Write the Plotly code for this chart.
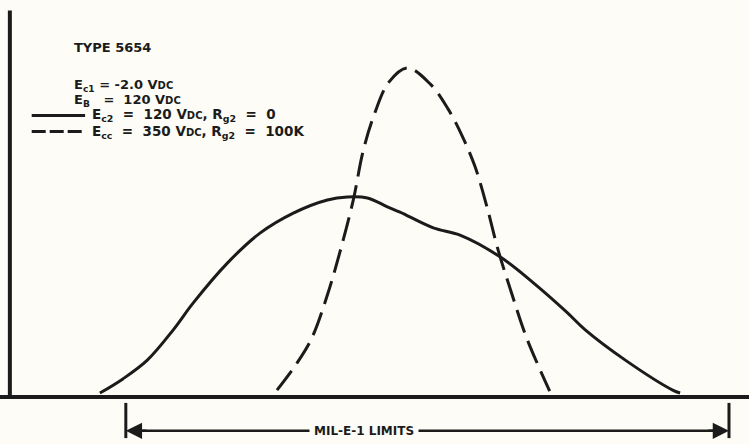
import plotly.graph_objects as go

# ---- data (x: arbitrary units along the axis, y: % of dashed-curve peak) ----
solid_x = [12.4, 15.5, 18.8, 22.3, 25.0, 29.6, 34.0, 38.5, 43.1, 45.8, 48.5, 51.2, 52.9,
           57.4, 61.0, 66.4, 70.9, 75.4, 77.9, 83.5, 89.7, 90.7]
solid_y = [1.2, 5.5, 11.2, 20.4, 28.6, 40.7, 49.8, 55.9, 59.9, 60.8, 60.5, 57.8, 56.2,
           51.4, 49.2, 42.6, 34.7, 25.8, 20.4, 10.9, 2.1, 1.2]

dashed_x = [36.3, 39.0, 41.0, 43.1, 44.8, 46.6, 47.9, 49.4, 51.4, 53.9, 57.0, 59.4,
            61.3, 63.0, 64.6, 66.1, 68.0, 70.0, 73.1]
dashed_y = [2.1, 10.3, 17.9, 31.0, 44.1, 59.9, 74.5, 85.7, 95.7, 100.0, 95.1, 87.5,
            79.3, 70.2, 58.1, 45.0, 31.3, 17.9, 1.8]

limits = [15.9, 97.3]          # MIL-E-1 limits
limit_label = "MIL-E-1 LIMITS"

NB = "\u00a0"
SM = "<span style='font-size:10px'>DC</span>"
EQ = NB + "=" + NB
solid_name = "E<sub>c2</sub>" + NB + EQ + NB + "120 V" + SM + ", R<sub>g2</sub>" + NB + EQ + NB + "0"
dashed_name = "E<sub>cc</sub>" + NB + EQ + NB + "350 V" + SM + ", R<sub>g2</sub>" + NB + EQ + NB + "100K"
title_lines = ["TYPE 5654",
               "E<sub>c1</sub> = -2.0 V" + SM,
               "E<sub>B</sub>" + NB + NB + NB + "=" + NB + NB + "120 V" + SM]

INK = "#1b1b1b"
BG = "#fdfcf6"
FONT = dict(family="DejaVu Sans", size=13, color=INK, weight="bold")
LFONT = dict(family="DejaVu Sans", size=13.5, color=INK, weight="bold")

# figure geometry: x range maps 0 -> y-axis, y range 0 -> x-axis
XR = [-1.08, 100.0]
YR = [-14.29, 120.67]

fig = go.Figure()
fig.add_trace(go.Scatter(x=solid_x, y=solid_y, mode="lines", name="solid",
                         line=dict(color=INK, width=3, shape="spline", smoothing=1.0),
                         showlegend=False, hoverinfo="skip"))
fig.add_trace(go.Scatter(x=dashed_x, y=dashed_y, mode="lines", name="dashed",
                         line=dict(color=INK, width=3, shape="spline", smoothing=1.0,
                                   dash="24px,9px"),
                         showlegend=False, hoverinfo="skip"))

shapes = []
# axes
shapes.append(dict(type="line", xref="x", yref="y", x0=XR[0], x1=XR[1], y0=0, y1=0,
                   line=dict(color=INK, width=4)))
shapes.append(dict(type="line", xref="x", yref="y", x0=0.25, x1=0.25, y0=0, y1=117.5,
                   line=dict(color=INK, width=4)))
# limit ticks and arrow line
y_arrow = -10.3
for lx in limits:
    shapes.append(dict(type="line", xref="x", yref="y", x0=lx, x1=lx, y0=-1.8, y1=-12.5,
                       line=dict(color=INK, width=3)))
shapes.append(dict(type="line", xref="x", yref="y", x0=limits[0] + 1.5, x1=limits[1] - 1.5,
                   y0=y_arrow, y1=y_arrow, line=dict(color=INK, width=2.5)))
# legend sample lines
leg_y = [85.6, 80.7]
shapes.append(dict(type="line", xref="x", yref="y", x0=3.2, x1=10.4, y0=leg_y[0], y1=leg_y[0],
                   line=dict(color=INK, width=3)))
shapes.append(dict(type="line", xref="x", yref="y", x0=3.2, x1=10.4, y0=leg_y[1], y1=leg_y[1],
                   line=dict(color=INK, width=3, dash="14px,4px")))

annotations = []
# arrowheads
for lx, sgn in [(limits[0], 1), (limits[1], -1)]:
    annotations.append(dict(x=lx, y=y_arrow, xref="x", yref="y", ax=lx + sgn * 3.0, ay=y_arrow,
                            axref="x", ayref="y", text="", showarrow=True, arrowhead=2,
                            arrowsize=1.3, arrowwidth=2.5, arrowcolor=INK))
annotations.append(dict(x=48.0, y=y_arrow, xref="x", yref="y",
                        text=limit_label, showarrow=False, bgcolor=BG, borderpad=4,
                        font=dict(family="DejaVu Sans", size=12, color=INK, weight="bold")))
# header text
title_y = [106.1, 94.6, 90.2]
for t, ty in zip(title_lines, title_y):
    annotations.append(dict(x=8.6, y=ty, xref="x", yref="y", text=t, showarrow=False,
                            xanchor="left", yanchor="middle", font=FONT))
annotations.append(dict(x=11.1, y=leg_y[0], xref="x", yref="y", text=solid_name, showarrow=False,
                        xanchor="left", yanchor="middle", font=LFONT))
annotations.append(dict(x=11.1, y=leg_y[1], xref="x", yref="y", text=dashed_name, showarrow=False,
                        xanchor="left", yanchor="middle", font=LFONT))

fig.update_layout(
    width=749, height=444,
    margin=dict(l=0, r=0, t=0, b=0),
    paper_bgcolor=BG, plot_bgcolor=BG,
    xaxis=dict(range=XR, visible=False, fixedrange=True),
    yaxis=dict(range=YR, visible=False, fixedrange=True),
    shapes=shapes, annotations=annotations, showlegend=False,
)
fig.write_html("out.html")
